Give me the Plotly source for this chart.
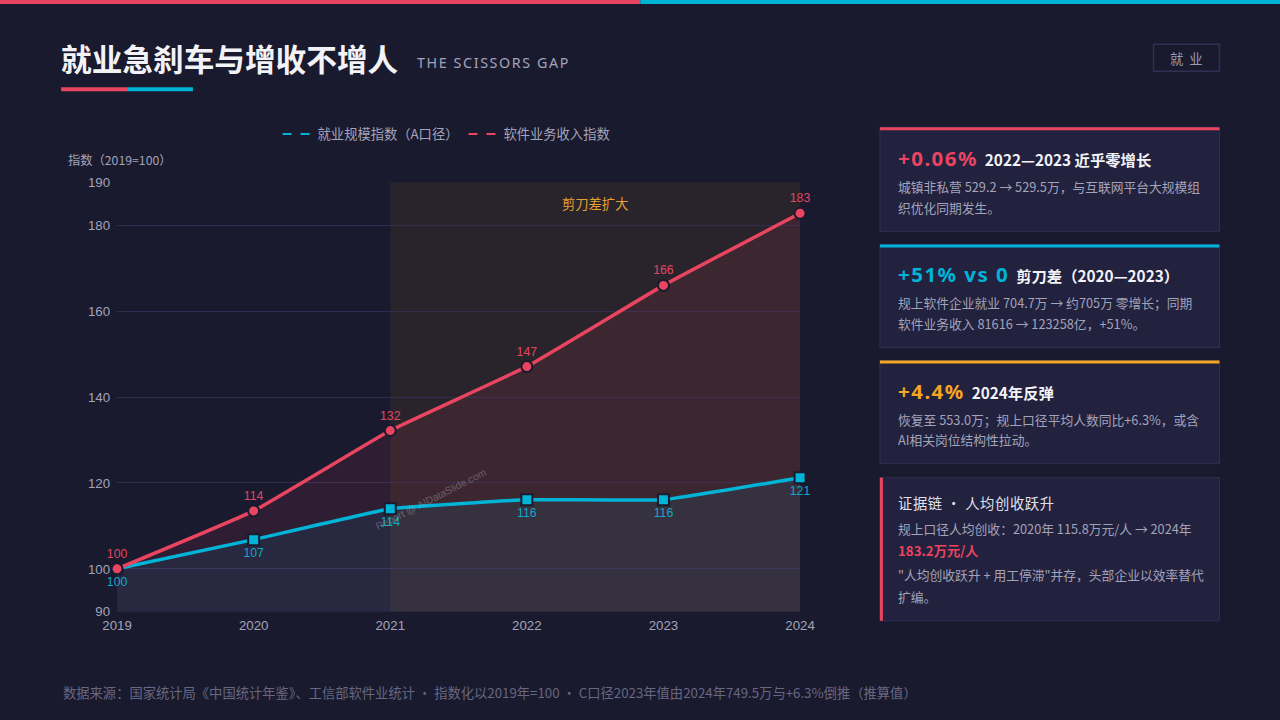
import plotly.graph_objects as go

# DATA
years = [2019, 2020, 2021, 2022, 2023, 2024]
employment_idx = [100, 106.8, 114.0, 116.1, 116.1, 121.2]
employment_lbl = ['100', '107', '114', '116', '116', '121']
revenue_idx = [100, 113.5, 132.2, 147.1, 166.0, 182.8]
revenue_lbl = ['100', '114', '132', '147', '166', '183']
y_ticks = [90, 100, 120, 140, 160, 180, 190]

BG = '#1a1a2e'
RED = '#e94560'
CYAN = '#00b4d8'
ORANGE = '#f5a623'
GREY = '#a3a3ba'
CARD = '#22213e'
CARD_LINE = '#302f54'
W, H = 1280, 720
# the page is photographed with a small frame: image = S * page + offset
S = 0.978
OX, OY = 13.8, 6.9


def px(x):
    return (x - OX) / S / W


def py(y):
    return 1 - (y - OY) / S / H


def fs(size):
    return round(size / S, 2)


fig = go.Figure()

# AREA + LINES (employment first, revenue fills down to it)
fig.add_trace(go.Scatter(x=years, y=employment_idx, mode='lines+markers+text', name='就业规模指数（A口径）',
                         text=employment_lbl, textposition='bottom center',
                         textfont=dict(color='#0fa9cc', size=fs(12), family='Liberation Sans'),
                         line=dict(color=CYAN, width=3.5, shape='spline', smoothing=0.25),
                         marker=dict(symbol='square', size=11, color=CYAN, line=dict(color=BG, width=2)),
                         fill='tozeroy', fillcolor='rgba(166,166,226,0.10)',
                         cliponaxis=False, showlegend=False))
fig.add_trace(go.Scatter(x=years, y=revenue_idx, mode='lines+markers+text', name='软件业务收入指数',
                         text=revenue_lbl, textposition='top center',
                         textfont=dict(color='#e0475f', size=fs(12), family='Liberation Sans'),
                         line=dict(color=RED, width=3.5, shape='spline', smoothing=0.3),
                         marker=dict(symbol='circle', size=11, color=RED, line=dict(color=BG, width=2)),
                         fill='tonexty', fillcolor='rgba(233,69,96,0.10)',
                         cliponaxis=False, showlegend=False))

# LEGEND ONLY (dashed symbols)
fig.add_trace(go.Scatter(x=[None], y=[None], mode='lines', name='就业规模指数（A口径）',
                         line=dict(color=CYAN, width=2, dash='dash')))
fig.add_trace(go.Scatter(x=[None], y=[None], mode='lines', name='软件业务收入指数',
                         line=dict(color=RED, width=2, dash='dash')))

shapes = []
# top colour bar
shapes.append(dict(type='rect', xref='paper', yref='paper', x0=px(-2), x1=px(640), y0=py(4), y1=py(-2),
                   fillcolor=RED, line_width=0))
shapes.append(dict(type='rect', xref='paper', yref='paper', x0=px(640), x1=px(1282), y0=py(4), y1=py(-2),
                   fillcolor=CYAN, line_width=0))
# title underline
shapes.append(dict(type='rect', xref='paper', yref='paper', x0=px(60), x1=px(126), y0=py(91), y1=py(87),
                   fillcolor=RED, line_width=0))
shapes.append(dict(type='rect', xref='paper', yref='paper', x0=px(126), x1=px(192), y0=py(91), y1=py(87),
                   fillcolor=CYAN, line_width=0))
# badge
shapes.append(dict(type='rect', xref='paper', yref='paper', x0=px(1154), x1=px(1220), y0=py(71), y1=py(44),
                   fillcolor=BG, line=dict(color=CARD_LINE, width=1.5)))
# highlighted band 2021-2024
shapes.append(dict(type='rect', xref='x', yref='y domain', x0=2021, x1=2024, y0=0, y1=1,
                   fillcolor='rgba(245,166,35,0.07)', line_width=0, layer='below'))

# cards
cards = [(127, 231, RED, 'top'), (244, 347, CYAN, 'top'), (360, 463, ORANGE, 'top'), (477, 620, RED, 'left')]
for top, bottom, col, side in cards:
    shapes.append(dict(type='rect', xref='paper', yref='paper', x0=px(880), x1=px(1220), y0=py(bottom), y1=py(top),
                       fillcolor=CARD, line=dict(color=CARD_LINE, width=1)))
    if side == 'top':
        shapes.append(dict(type='rect', xref='paper', yref='paper', x0=px(880), x1=px(1220), y0=py(top + 3),
                           y1=py(top), fillcolor=col, line_width=0))
    else:
        shapes.append(dict(type='rect', xref='paper', yref='paper', x0=px(880), x1=px(883), y0=py(bottom),
                           y1=py(top), fillcolor=col, line_width=0))

ann = []


def txt(x, y, text, size=12.5, color=GREY, anchor='left', family='Noto Sans CJK SC', **kw):
    ann.append(dict(xref='paper', yref='paper', x=px(x), y=py(y), text=text, showarrow=False,
                    xanchor=anchor, yanchor='middle', font=dict(size=fs(size), color=color, family=family), **kw))


def headline(big, col, rest):
    return ('<span style="font-family:Noto Sans;font-size:%spx;letter-spacing:1.5px;color:%s"><b>%s</b></span>'
            '  <b>%s</b>' % (fs(20), col, big, rest))


# header
txt(58, 57, '<b>就业急刹车与增收不增人</b>', size=30, color='#f2f2f7')
txt(414, 62, '<span style="letter-spacing:1.6px">THE SCISSORS GAP</span>', size=14, color='#a3a3ba',
    family='Noto Sans')
txt(1187, 58, '就  业', size=13, color='#9a9ab2', anchor='center')

# chart annotations
txt(65, 160, '指数（2019=100）', size=12, color=GREY)
ann.append(dict(xref='x', yref='paper', x=2022.5, y=py(192), text='剪刀差扩大', showarrow=False,
                font=dict(size=fs(13), color='#e8a030', family='Noto Sans CJK SC')))
txt(430, 499, 'Report @ AIDataSlide.com', size=10, color='rgba(200,200,215,0.35)', anchor='center',
    family='Liberation Sans', textangle=-27)

# card 1
txt(896, 158, headline('+0.06%', RED, '2022—2023 近乎零增长'), size=15, color='#f2f2f7')
txt(896, 186, '城镇非私营 529.2 → 529.5万，与互联网平台大规模组')
txt(896, 207, '织优化同期发生。')
# card 2
txt(896, 274, headline('+51% vs 0', CYAN, '剪刀差（2020—2023）'), size=15, color='#f2f2f7')
txt(896, 302, '规上软件企业就业 704.7万 → 约705万 零增长；同期')
txt(896, 323, '软件业务收入 81616 → 123258亿，+51%。')
# card 3
txt(896, 390, headline('+4.4%', ORANGE, '2024年反弹'), size=15, color='#f2f2f7')
txt(896, 419, '恢复至 553.0万；规上口径平均人数同比+6.3%，或含')
txt(896, 439, 'AI相关岗位结构性拉动。')
# card 4
txt(896, 502, '<span style="letter-spacing:0.6px">证据链 · 人均创收跃升</span>', size=14, color='#e0e0ec')
txt(896, 528, '规上口径人均创收：2020年 115.8万元/人 → 2024年')
txt(896, 550, '<b>183.2万元/人</b>', size=13, color=RED)
txt(896, 574, '"人均创收跃升 + 用工停滞"并存，头部企业以效率替代')
txt(896, 596, '扩编。')

# footer
txt(60, 692, '数据来源：国家统计局《中国统计年鉴》、工信部软件业统计 · 指数化以2019年=100 · C口径2023年值由2024年749.5万与+6.3%倒推（推算值）',
    size=13, color='#676782')

fig.update_layout(
    width=W, height=H, margin=dict(l=0, r=0, t=0, b=0),
    paper_bgcolor=BG, plot_bgcolor=BG,
    font=dict(family='Liberation Sans, Noto Sans CJK SC', color=GREY, size=fs(13)),
    shapes=shapes, annotations=ann,
    legend=dict(orientation='h', x=px(446), xanchor='center', y=py(134), yanchor='middle',
                font=dict(size=fs(13), color=GREY, family='Noto Sans CJK SC'), bgcolor='rgba(0,0,0,0)',
                itemwidth=30, traceorder='normal'),
    xaxis=dict(domain=[px(116), px(800)], range=[2019, 2024], tickvals=years, showgrid=False,
               zeroline=False, showline=False, ticklabelstandoff=4, tickfont=dict(size=fs(13), color=GREY)),
    yaxis=dict(domain=[py(611), py(182)], range=[90, 190], tickvals=y_ticks, showgrid=True,
               gridcolor='#2f2e50', gridwidth=1, zeroline=False, showline=False, ticklabelstandoff=6,
               tickfont=dict(size=fs(13), color=GREY)),
)

fig.write_html("out.html", config={'displayModeBar': False},
               post_script="document.body.style.margin='0';document.body.style.background='#1a1a2e';")
